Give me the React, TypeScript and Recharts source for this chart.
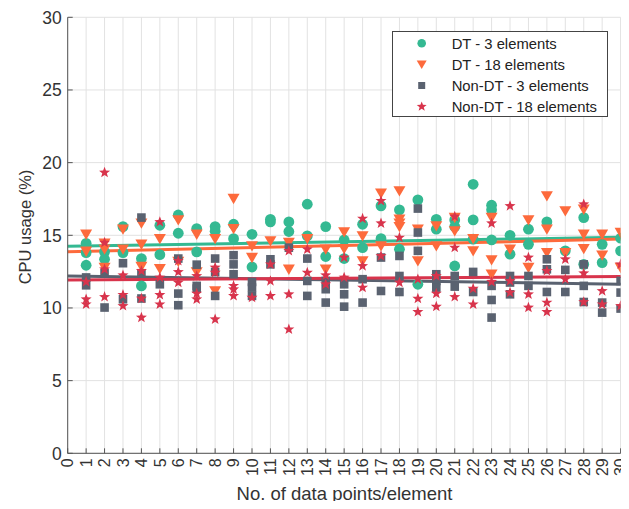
import React from 'react';
import { ScatterChart, Scatter, XAxis, YAxis, CartesianGrid, ReferenceLine, Legend } from 'recharts';

// x categories (No. of data points/element)
const xCategories = [1, 2, 3, 4, 5, 6, 7, 8, 9, 10, 11, 12, 13, 14, 15, 16, 17, 18, 19, 20, 21, 22, 23, 24, 25, 26, 27, 28, 29, 30];

// CPU usage readings per x category
const dt3Values: number[][] = [
  [14.45, 13.81, 12.94], [13.86, 13.35], [15.6, 13.81], [13.4, 11.52], [15.69, 13.67],
  [16.4, 15.14], [15.46, 13.86], [15.6, 15.28], [15.76, 14.77], [15.07, 12.82],
  [16.1, 15.92], [15.92, 15.26], [17.14, 14.96], [15.6, 13.54], [14.68, 13.4],
  [15.76, 14.15], [17.02, 14.77], [16.75, 14.04], [17.44, 11.63], [16.1, 15.42],
  [16.06, 15.6, 12.89], [18.51, 16.06, 14.73], [17.07, 16.75, 14.68], [15.0, 13.7], [15.42, 14.38],
  [15.92], [13.93], [16.22, 13.0], [14.38, 13.12], [14.8, 13.93],
];
const dt18Values: number[][] = [
  [15.07, 13.9], [14.45, 14.04, 12.78], [15.42, 14.04], [15.83, 14.38, 12.85], [14.77, 12.71],
  [16.06, 13.2], [15.07, 12.48], [14.77, 11.17], [17.53, 15.46], [14.27, 13.47],
  [14.61], [14.5, 12.66], [14.77], [14.04, 12.66], [15.23, 14.08],
  [14.96, 13.24], [17.9, 14.27], [18.05, 16.1, 15.83, 15.6], [15.42, 13.24], [15.65, 14.27],
  [16.22, 15.3], [14.77, 13.93], [16.22, 13.31, 12.32], [14.04], [16.06, 12.78],
  [17.71, 15.42, 13.81], [16.68, 13.81], [16.79, 15.07, 14.08], [15.07, 13.63], [15.19, 12.78],
];
const nonDt3Values: number[][] = [
  [11.56, 12.1], [12.39, 10.03], [13.08, 10.6], [16.22, 12.39, 10.65], [11.63],
  [13.4, 10.99, 10.19], [12.98, 11.52, 11.33], [13.4, 12.48, 10.83], [13.63, 13.0, 12.32], [11.79, 11.4, 10.83],
  [13.35, 13.0], [14.15], [13.4, 11.86, 10.83], [11.86, 11.29, 10.37], [11.63, 10.94, 10.09],
  [11.98, 10.37], [13.47, 11.17], [13.58, 12.2, 11.1], [16.84, 15.19, 13.93], [12.32, 11.86, 11.4],
  [12.2, 11.47], [12.48, 11.1], [11.52, 10.55, 9.34], [12.2, 11.75, 10.94], [12.2, 11.52],
  [13.35, 12.66, 11.1], [12.62, 11.1], [13.0, 11.52, 10.41], [10.37, 9.68], [11.86, 11.06, 9.96],
];
const nonDt18Values: number[][] = [
  [11.8, 10.6, 10.25], [19.32, 14.5, 12.66, 10.76], [12.25, 10.9, 10.14], [12.55, 10.65, 9.34], [15.92, 12.1, 10.9, 10.25],
  [13.24, 12.48, 11.75], [12.2, 10.99, 10.6], [12.78, 12.43, 9.22], [11.52, 11.29, 10.83], [10.71],
  [13.0, 11.86, 10.83], [13.93, 10.94, 8.53], [14.04, 12.43], [12.25, 11.63], [13.47, 12.1],
  [16.15, 12.89, 11.4], [17.37, 15.83, 13.58], [14.84, 11.75], [11.98, 10.64, 9.73], [12.2, 10.99, 10.09],
  [16.29, 14.15, 10.76], [11.33, 10.25], [15.83, 11.8], [17.02, 11.86, 11.06], [13.47, 10.94, 10.03],
  [12.55, 10.37, 9.73], [13.35, 11.98], [17.14, 12.39, 10.41], [11.17, 10.25], [13.0, 10.14],
];

// linear trend lines: value at x = 0 and at x = 30
const trendX = [0, 30];
const trendDt3 = [14.25, 14.86];
const trendDt18 = [13.86, 14.74];
const trendNonDt3 = [12.2, 11.63];
const trendNonDt18 = [11.93, 12.16];

const xTicks = [0, 1, 2, 3, 4, 5, 6, 7, 8, 9, 10, 11, 12, 13, 14, 15, 16, 17, 18, 19, 20, 21, 22, 23, 24, 25, 26, 27, 28, 29, 30];
const yTicks = [0, 5, 10, 15, 20, 25, 30];

const seriesNames = ['DT - 3 elements', 'DT - 18 elements', 'Non-DT - 3 elements', 'Non-DT - 18 elements'];

const GREEN = '#34b992';
const ORANGE = '#fd6a3c';
const GRAY = '#5a6270';
const RED = '#d8344c';
const AXIS = '#555555';
const TEXT = '#333333';
const FONT = '"Liberation Sans", Arial, Helvetica, sans-serif';

const toPoints = (vals: number[][]) =>
  vals.flatMap((arr, i) => arr.map((v) => ({ x: xCategories[i], y: v })));

const starPath = (cx: number, cy: number, R: number, r: number) => {
  let d = '';
  for (let i = 0; i < 10; i++) {
    const rad = i % 2 === 0 ? R : r;
    const a = -Math.PI / 2 + (i * Math.PI) / 5;
    d += (i === 0 ? 'M' : 'L') + (cx + rad * Math.cos(a)).toFixed(2) + ',' + (cy + rad * Math.sin(a)).toFixed(2);
  }
  return d + 'Z';
};

const CircleShape = (p: any) => <circle cx={p.cx} cy={p.cy} r={5.4} fill={GREEN} />;
const TriShape = (p: any) => (
  <path d={`M${p.cx - 6},${p.cy - 4.7}L${p.cx + 6},${p.cy - 4.7}L${p.cx},${p.cy + 5.6}Z`} fill={ORANGE} />
);
const SquareShape = (p: any) => <rect x={p.cx - 4.3} y={p.cy - 4.3} width={8.6} height={8.6} fill={GRAY} />;
const StarShape = (p: any) => <path d={starPath(p.cx, p.cy, 5.8, 2.4)} fill={RED} />;

const XTick = (p: any) => {
  const { x, y, payload } = p;
  return (
    <g>
      <line x1={x} y1={y} x2={x} y2={y - 5} stroke={AXIS} strokeWidth={1} />
      <text
        transform={`translate(${x},${y + 5}) rotate(-90)`}
        textAnchor="end"
        dy="0.36em"
        fontSize={16}
        fill={TEXT}
        fontFamily={FONT}
      >
        {payload.value}
      </text>
    </g>
  );
};

const YTick = (p: any) => {
  const { x, y, payload } = p;
  return (
    <g>
      <line x1={x} y1={y} x2={x + 5} y2={y} stroke={AXIS} strokeWidth={1} />
      <text x={x - 6} y={y} dy="0.36em" textAnchor="end" fontSize={17.5} fill={TEXT} fontFamily={FONT}>
        {payload.value}
      </text>
    </g>
  );
};

const LegendBox = () => {
  const rowY = (i: number) => 12.3 + i * 21.1;
  const mx = 29.7;
  return (
    <svg width={216} height={86} style={{ display: 'block' }}>
      <rect x={0.5} y={0.5} width={215} height={85} fill="#ffffff" stroke="#444444" strokeWidth={1} />
      <circle cx={mx} cy={rowY(0)} r={4.3} fill={GREEN} />
      <path d={`M${mx - 5},${rowY(1) - 4}L${mx + 5},${rowY(1) - 4}L${mx},${rowY(1) + 4.6}Z`} fill={ORANGE} />
      <rect x={mx - 3.5} y={rowY(2) - 3.5} width={7} height={7} fill={GRAY} />
      <path d={starPath(mx, rowY(3), 5.2, 2.2)} fill={RED} />
      {seriesNames.map((n, i) => (
        <text key={n} x={59.7} y={rowY(i)} dy="0.36em" fontSize={14.8} fill="#222222" fontFamily={FONT}>
          {n}
        </text>
      ))}
    </svg>
  );
};

export default function App() {
  return (
    <div style={{ width: 621, height: 501, marginBottom: -8 }}>
      <ScatterChart
        width={621}
        height={501}
        margin={{ top: 9.3, right: 8.4, bottom: 0, left: 0 }}
        style={{ fontFamily: FONT }}
      >
        <CartesianGrid stroke="#e2e2e2" strokeWidth={1} />
        <XAxis
          type="number"
          dataKey="x"
          domain={[0, 30]}
          ticks={xTicks}
          interval={0}
          allowDataOverflow
          height={55.7}
          tickSize={0}
          tickMargin={0}
          tickLine={false}
          axisLine={{ stroke: AXIS, strokeWidth: 1 }}
          tick={<XTick />}
          label={{
            content: () => (
              <text x={336.5} y={485} dy="0.36em" textAnchor="middle" fontSize={18.5} fill={TEXT} fontFamily={FONT}>
                No. of data points/element
              </text>
            ),
          }}
        />
        <YAxis
          type="number"
          dataKey="y"
          domain={[0, 30]}
          ticks={yTicks}
          interval={0}
          allowDataOverflow
          width={59.7}
          tickSize={0}
          tickMargin={0}
          tickLine={false}
          axisLine={{ stroke: AXIS, strokeWidth: 1 }}
          tick={<YTick />}
          label={{
            content: () => (
              <text
                transform="translate(17,219) rotate(-90)"
                textAnchor="middle"
                dy="0.36em"
                fontSize={16.5}
                fill={TEXT}
                fontFamily={FONT}
              >
                CPU usage (%)
              </text>
            ),
          }}
        />
        <Scatter name={seriesNames[0]} data={toPoints(dt3Values)} shape={CircleShape} isAnimationActive={false} />
        <Scatter name={seriesNames[1]} data={toPoints(dt18Values)} shape={TriShape} isAnimationActive={false} />
        <Scatter name={seriesNames[2]} data={toPoints(nonDt3Values)} shape={SquareShape} isAnimationActive={false} />
        <Scatter name={seriesNames[3]} data={toPoints(nonDt18Values)} shape={StarShape} isAnimationActive={false} />
        <ReferenceLine
          segment={[{ x: trendX[0], y: trendNonDt3[0] }, { x: trendX[1], y: trendNonDt3[1] }]}
          stroke={GRAY}
          strokeWidth={3}
          ifOverflow="visible"
        />
        <ReferenceLine
          segment={[{ x: trendX[0], y: trendNonDt18[0] }, { x: trendX[1], y: trendNonDt18[1] }]}
          stroke={RED}
          strokeWidth={3}
          ifOverflow="visible"
        />
        <ReferenceLine
          segment={[{ x: trendX[0], y: trendDt3[0] }, { x: trendX[1], y: trendDt3[1] }]}
          stroke={GREEN}
          strokeWidth={3}
          ifOverflow="visible"
        />
        <ReferenceLine
          segment={[{ x: trendX[0], y: trendDt18[0] }, { x: trendX[1], y: trendDt18[1] }]}
          stroke={ORANGE}
          strokeWidth={3}
          ifOverflow="visible"
        />
        <Legend
          layout="horizontal"
          verticalAlign="middle"
          align="center"
          wrapperStyle={{ left: 384, top: 23, width: 216, height: 86 }}
          content={() => <LegendBox />}
        />
      </ScatterChart>
    </div>
  );
}
